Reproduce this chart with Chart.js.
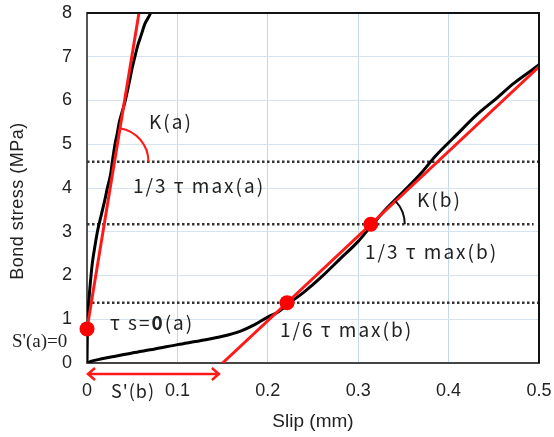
<!DOCTYPE html>
<html>
<head>
<meta charset="utf-8">
<script src="https://cdn.jsdelivr.net/npm/chart.js@4"></script>
<style>
  html, body { margin: 0; padding: 0; background: #fff; }
  #wrap { width: 554px; height: 437px; }
</style>
</head>
<body>
<div id="wrap"><canvas id="chart"></canvas></div>
<script>
// test (a): stiff response rising straight off the axis
const slipA = [0, 0.0005, 0.002, 0.004, 0.006, 0.009, 0.012, 0.016, 0.02, 0.0225, 0.026, 0.028, 0.031, 0.0335, 0.0357, 0.039, 0.0424, 0.045, 0.0476, 0.05, 0.053, 0.056, 0.06, 0.064, 0.0704, 0.075];
const stressA = [0, 0.8, 1.4, 1.9, 2.3, 2.7, 3.05, 3.4, 3.75, 4.0, 4.3, 4.6, 5.0, 5.25, 5.5, 5.75, 6.0, 6.25, 6.5, 6.75, 7.0, 7.25, 7.5, 7.75, 8.0, 8.3];

// test (b): soft start, then roughly linear
const slipB = [0, 0.005, 0.015, 0.03, 0.05, 0.075, 0.1, 0.125, 0.15, 0.17, 0.185, 0.2, 0.21, 0.22, 0.2246, 0.24, 0.26, 0.28, 0.3, 0.315, 0.33, 0.35, 0.37, 0.385, 0.409, 0.431, 0.453, 0.472, 0.497, 0.5];
const stressB = [0, 0.04, 0.09, 0.15, 0.23, 0.32, 0.42, 0.51, 0.61, 0.73, 0.87, 1.05, 1.15, 1.3, 1.38, 1.62, 1.98, 2.38, 2.78, 3.15, 3.5, 3.92, 4.35, 4.72, 5.22, 5.67, 6.05, 6.39, 6.77, 6.82];

// secant stiffness lines
const tangentASlip = [0, 0.0575];
const tangentAStress = [0.78, 8];
const tangentBSlip = [0.15, 0.5];
const tangentBStress = [0, 6.77];

// reference stress levels (1/3 tau max(a), 1/3 tau max(b), 1/6 tau max(b))
const levelStress = [4.6, 3.17, 1.38];
const levelEnd = [0.5, 0.494, 0.5];

// red points
const markerSlip = [0, 0.2213, 0.3139];
const markerStress = [0.78, 1.38, 3.17];

// S'(b) offset arrow
const offsetSlip = [0, 0.147];
const offsetStress = -0.25;

// angle arcs: [slip, stress] of the vertex
const arcA = [0.0304, 4.6];
const arcB = [0.3139, 3.17];

const xTicks = [0, 0.1, 0.2, 0.3, 0.4, 0.5];
const yTicks = [0, 1, 2, 3, 4, 5, 6, 7, 8];

const zip = (xs, ys) => xs.map((x, i) => ({ x, y: ys[i] }));

const textFont = '"Noto Sans CJK JP", "Liberation Sans", sans-serif';

const levelSets = levelStress.map((y, i) => ({
  data: [{ x: 0, y }, { x: levelEnd[i], y }],
  borderColor: "#333",
  borderWidth: 2.5,
  borderDash: [2.5, 2.5],
  pointRadius: 0,
  order: 5,
}));

const annotations = {
  id: "annotations",
  afterDatasetsDraw(chart) {
    const { ctx, chartArea: area, scales: { x, y } } = chart;
    ctx.save();

    // frame on top and right
    ctx.strokeStyle = "#111";
    ctx.lineWidth = 2;
    ctx.beginPath();
    ctx.moveTo(area.left, area.top);
    ctx.lineTo(area.right, area.top);
    ctx.lineTo(area.right, area.bottom);
    ctx.stroke();

    // angle arcs between the level line and the secant line
    const arc = (vertex, lineSlip, lineStress, color) => {
      const cx = x.getPixelForValue(vertex[0]);
      const cy = y.getPixelForValue(vertex[1]);
      const dx = x.getPixelForValue(lineSlip[1]) - x.getPixelForValue(lineSlip[0]);
      const dy = y.getPixelForValue(lineStress[1]) - y.getPixelForValue(lineStress[0]);
      ctx.strokeStyle = color;
      ctx.lineWidth = 2;
      ctx.beginPath();
      ctx.arc(cx, cy, 34, Math.atan2(dy, dx), 0);
      ctx.stroke();
    };
    arc(arcA, tangentASlip, tangentAStress, "#ff1a1a");
    arc(arcB, tangentBSlip, tangentBStress, "#111");

    // double arrow for S'(b)
    const ay = y.getPixelForValue(offsetStress);
    const ax0 = x.getPixelForValue(offsetSlip[0]);
    const ax1 = x.getPixelForValue(offsetSlip[1]);
    ctx.strokeStyle = "#ff1a1a";
    ctx.lineWidth = 2.5;
    ctx.beginPath();
    ctx.moveTo(ax0, ay);
    ctx.lineTo(ax1, ay);
    ctx.moveTo(ax0 + 8, ay - 6);
    ctx.lineTo(ax0 + 1, ay);
    ctx.lineTo(ax0 + 8, ay + 6);
    ctx.moveTo(ax1 - 8, ay - 6);
    ctx.lineTo(ax1 - 1, ay);
    ctx.lineTo(ax1 - 8, ay + 6);
    ctx.stroke();

    // labels
    ctx.fillStyle = "#222";
    ctx.textBaseline = "middle";
    ctx.textAlign = "left";
    ctx.letterSpacing = "2px";
    ctx.font = `19px ${textFont}`;
    ctx.fillText("K(a)", 149, 122);
    ctx.fillText("1/3 τ max(a)", 133, 186);
    ctx.fillText("K(b)", 417, 200);
    ctx.fillText("1/3 τ max(b)", 365, 252);
    ctx.fillText("1/6 τ max(b)", 280, 330);

    ctx.fillText("τ s=", 110, 323);
    let w = ctx.measureText("τ s=").width;
    ctx.font = `bold 19px ${textFont}`;
    ctx.fillText("0", 110 + w, 323);
    w += ctx.measureText("0").width;
    ctx.font = `19px ${textFont}`;
    ctx.fillText("(a)", 110 + w, 323);

    ctx.letterSpacing = "0px";
    ctx.font = '19px "Liberation Serif", serif';
    ctx.fillText("S'(a)=0", 12, 342);
    ctx.letterSpacing = "1px";
    ctx.font = `18px ${textFont}`;
    ctx.fillText("S'(b)", 111, 391);

    // vertical axis title
    ctx.translate(18, 201);
    ctx.rotate(-Math.PI / 2);
    ctx.textAlign = "center";
    ctx.letterSpacing = "0.5px";
    ctx.font = '18px "Liberation Sans", sans-serif';
    ctx.fillText("Bond stress (MPa)", 0, 0);
    ctx.restore();
  },
};

new Chart(document.getElementById("chart"), {
  type: "line",
  data: {
    datasets: [
      { data: zip(markerSlip, markerStress), showLine: false, pointRadius: 7.5, pointBackgroundColor: "#ff0000", pointBorderWidth: 0, order: 0, clip: false },
      { data: zip(tangentASlip, tangentAStress), borderColor: "#ff1a1a", borderWidth: 3, pointRadius: 0, order: 1 },
      { data: zip(tangentBSlip, tangentBStress), borderColor: "#ff1a1a", borderWidth: 3, pointRadius: 0, order: 1 },
      { data: zip(slipA, stressA), borderColor: "#000", borderWidth: 3, pointRadius: 0, order: 2, cubicInterpolationMode: "monotone" },
      { data: zip(slipB, stressB), borderColor: "#000", borderWidth: 3, pointRadius: 0, order: 2, cubicInterpolationMode: "monotone" },
      ...levelSets,
    ],
  },
  options: {
    responsive: true,
    maintainAspectRatio: false,
    animation: false,
    layout: { padding: { top: 13, right: 15, left: 0, bottom: 0 } },
    plugins: { legend: { display: false }, tooltip: { enabled: false } },
    scales: {
      x: {
        type: "linear",
        min: 0,
        max: 0.5,
        afterFit: (scale) => {
          scale.height = 74;
          scale.paddingLeft = 0;
          scale.paddingRight = 0;
        },
        afterBuildTicks: (scale) => { scale.ticks = xTicks.map((value) => ({ value })); },
        ticks: { padding: 17, color: "#222", font: { family: "Liberation Sans", size: 18 }, callback: (v) => String(+v.toFixed(1)) },
        grid: { color: "#c4d8ec", lineWidth: 1, drawTicks: false },
        border: { color: "#444", width: 2 },
        title: { display: true, text: "Slip (mm)", color: "#222", font: { family: "Liberation Sans", size: 19 }, padding: { top: 0, bottom: 4 } },
      },
      y: {
        min: 0,
        max: 8,
        afterFit: (scale) => {
          scale.width = 87;
          scale.paddingTop = 0;
          scale.paddingBottom = 0;
        },
        afterBuildTicks: (scale) => { scale.ticks = yTicks.map((value) => ({ value })); },
        ticks: { padding: 15, color: "#222", font: { family: "Liberation Sans", size: 18 } },
        grid: { color: "#d5e2ef", lineWidth: 1, drawTicks: false },
        border: { color: "#555", width: 2 },
      },
    },
  },
  plugins: [annotations],
});
</script>
</body>
</html>
